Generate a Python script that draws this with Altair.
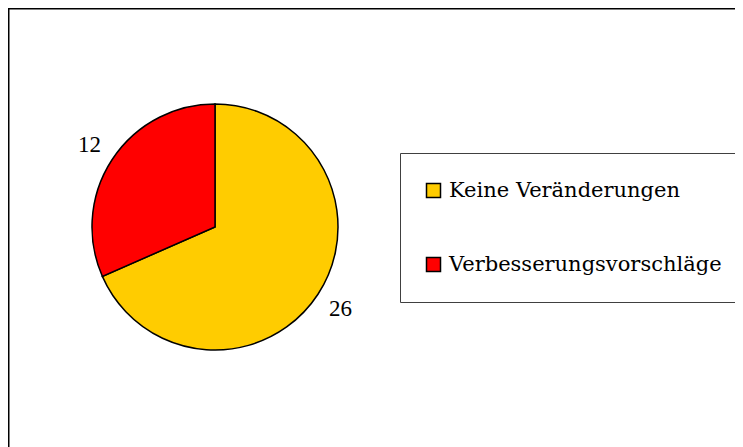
import altair as alt
import pandas as pd

categories = ["Keine Veränderungen", "Verbesserungsvorschläge"]
values = [26, 12]
colors = ["#FFCC00", "#FF0000"]
order = [1, 2]

df = pd.DataFrame({"category": categories, "value": values, "order": order})

cx, cy = 207, 219

base = alt.Chart(df).encode(
    theta=alt.Theta("value:Q", stack=True),
    order=alt.Order("order:Q"),
    x=alt.value(cx),
    y=alt.value(cy),
)

pie = base.mark_arc(outerRadius=123, stroke="black", strokeWidth=1.5).encode(
    fill=alt.Fill(
        "category:N",
        scale=alt.Scale(domain=categories, range=colors),
        legend=alt.Legend(title=None),
    )
)

labels = base.mark_text(
    radius=150, font="Liberation Serif", fontSize=23, color="black",
    align="center", baseline="middle"
).encode(text=alt.Text("value:Q"))

chart = (
    alt.layer(pie, labels)
    .properties(
        width=760,
        height=460,
        autosize=alt.AutoSizeParams(type="none"),
        padding={"left": 0, "top": 0, "right": -33, "bottom": -21},
        background="white",
    )
    .configure_view(stroke="black", strokeWidth=3)
    .configure_legend(
        orient="none",
        legendX=392,
        legendY=145,
        padding=27,
        strokeColor="#404040",
        strokeWidth=1,
        fillColor="white",
        labelFont="DejaVu Serif",
        labelFontSize=21,
        labelColor="black",
        labelLimit=0,
        labelOffset=5,
        symbolOffset=-4,
        symbolType="square",
        symbolSize=196,
        symbolStrokeColor="black",
        symbolStrokeWidth=1.5,
        rowPadding=52,
    )
)

chart.save("out.html", embed_options={"renderer": "svg", "actions": False})
